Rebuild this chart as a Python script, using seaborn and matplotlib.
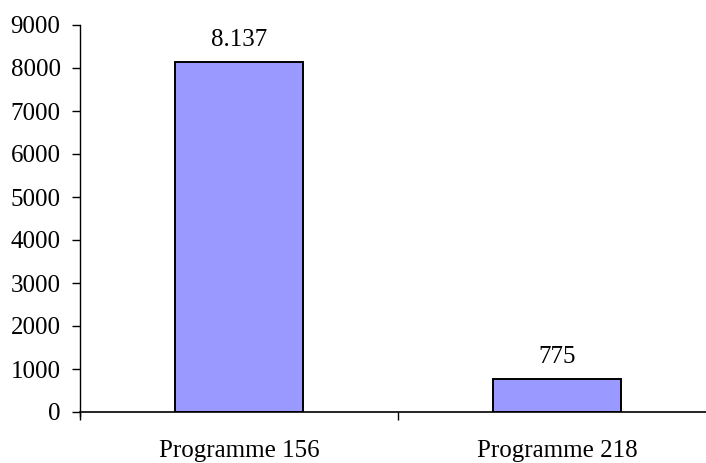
import pandas as pd
import seaborn as sns
import matplotlib.pyplot as plt

programmes = ['Programme 156', 'Programme 218']
counts = [8137, 775]
count_labels = ['8.137', '775']

df = pd.DataFrame({'programme': programmes, 'count': counts})

sns.set_style('ticks')
plt.rcParams['font.family'] = ['Liberation Serif', 'DejaVu Serif']
plt.rcParams['font.size'] = 18
plt.rcParams['text.color'] = 'black'
plt.rcParams['xtick.color'] = 'black'
plt.rcParams['ytick.color'] = 'black'

fig = plt.figure(figsize=(7.06, 4.63), dpi=100)
ax = fig.add_axes([80 / 706, 51 / 463, 636 / 706, 387 / 463])

sns.barplot(data=df, x='programme', y='count', color='#9999FF',
            saturation=1, width=0.4, edgecolor='black', linewidth=1.4, ax=ax)

for i, (v, lab) in enumerate(zip(counts, count_labels)):
    ax.annotate(lab, (i, v), xytext=(0, 11.5), textcoords='offset points',
                ha='center', va='baseline', fontsize=18, color='black')

ax.set_xlim(-0.5, 1.5)
ax.set_ylim(0, 9000)
ax.set_yticks(range(0, 9001, 1000))
ax.set_xlabel('')
ax.set_ylabel('')

ax.set_xticks([-0.5, 0.5, 1.5], minor=True)
ax.tick_params(axis='x', which='major', length=0, pad=20, labelsize=18)
ax.tick_params(axis='x', which='minor', length=5.5, width=1, direction='out')
ax.tick_params(axis='y', length=6, width=1, direction='out', pad=8, labelsize=18)

sns.despine(ax=ax)
ax.spines['left'].set_bounds(-90, 9000)
ax.spines['left'].set_linewidth(1)
ax.spines['bottom'].set_linewidth(1.2)
ax.spines['left'].set_color('black')
ax.spines['bottom'].set_color('black')

fig.savefig('out.png', dpi=100)
